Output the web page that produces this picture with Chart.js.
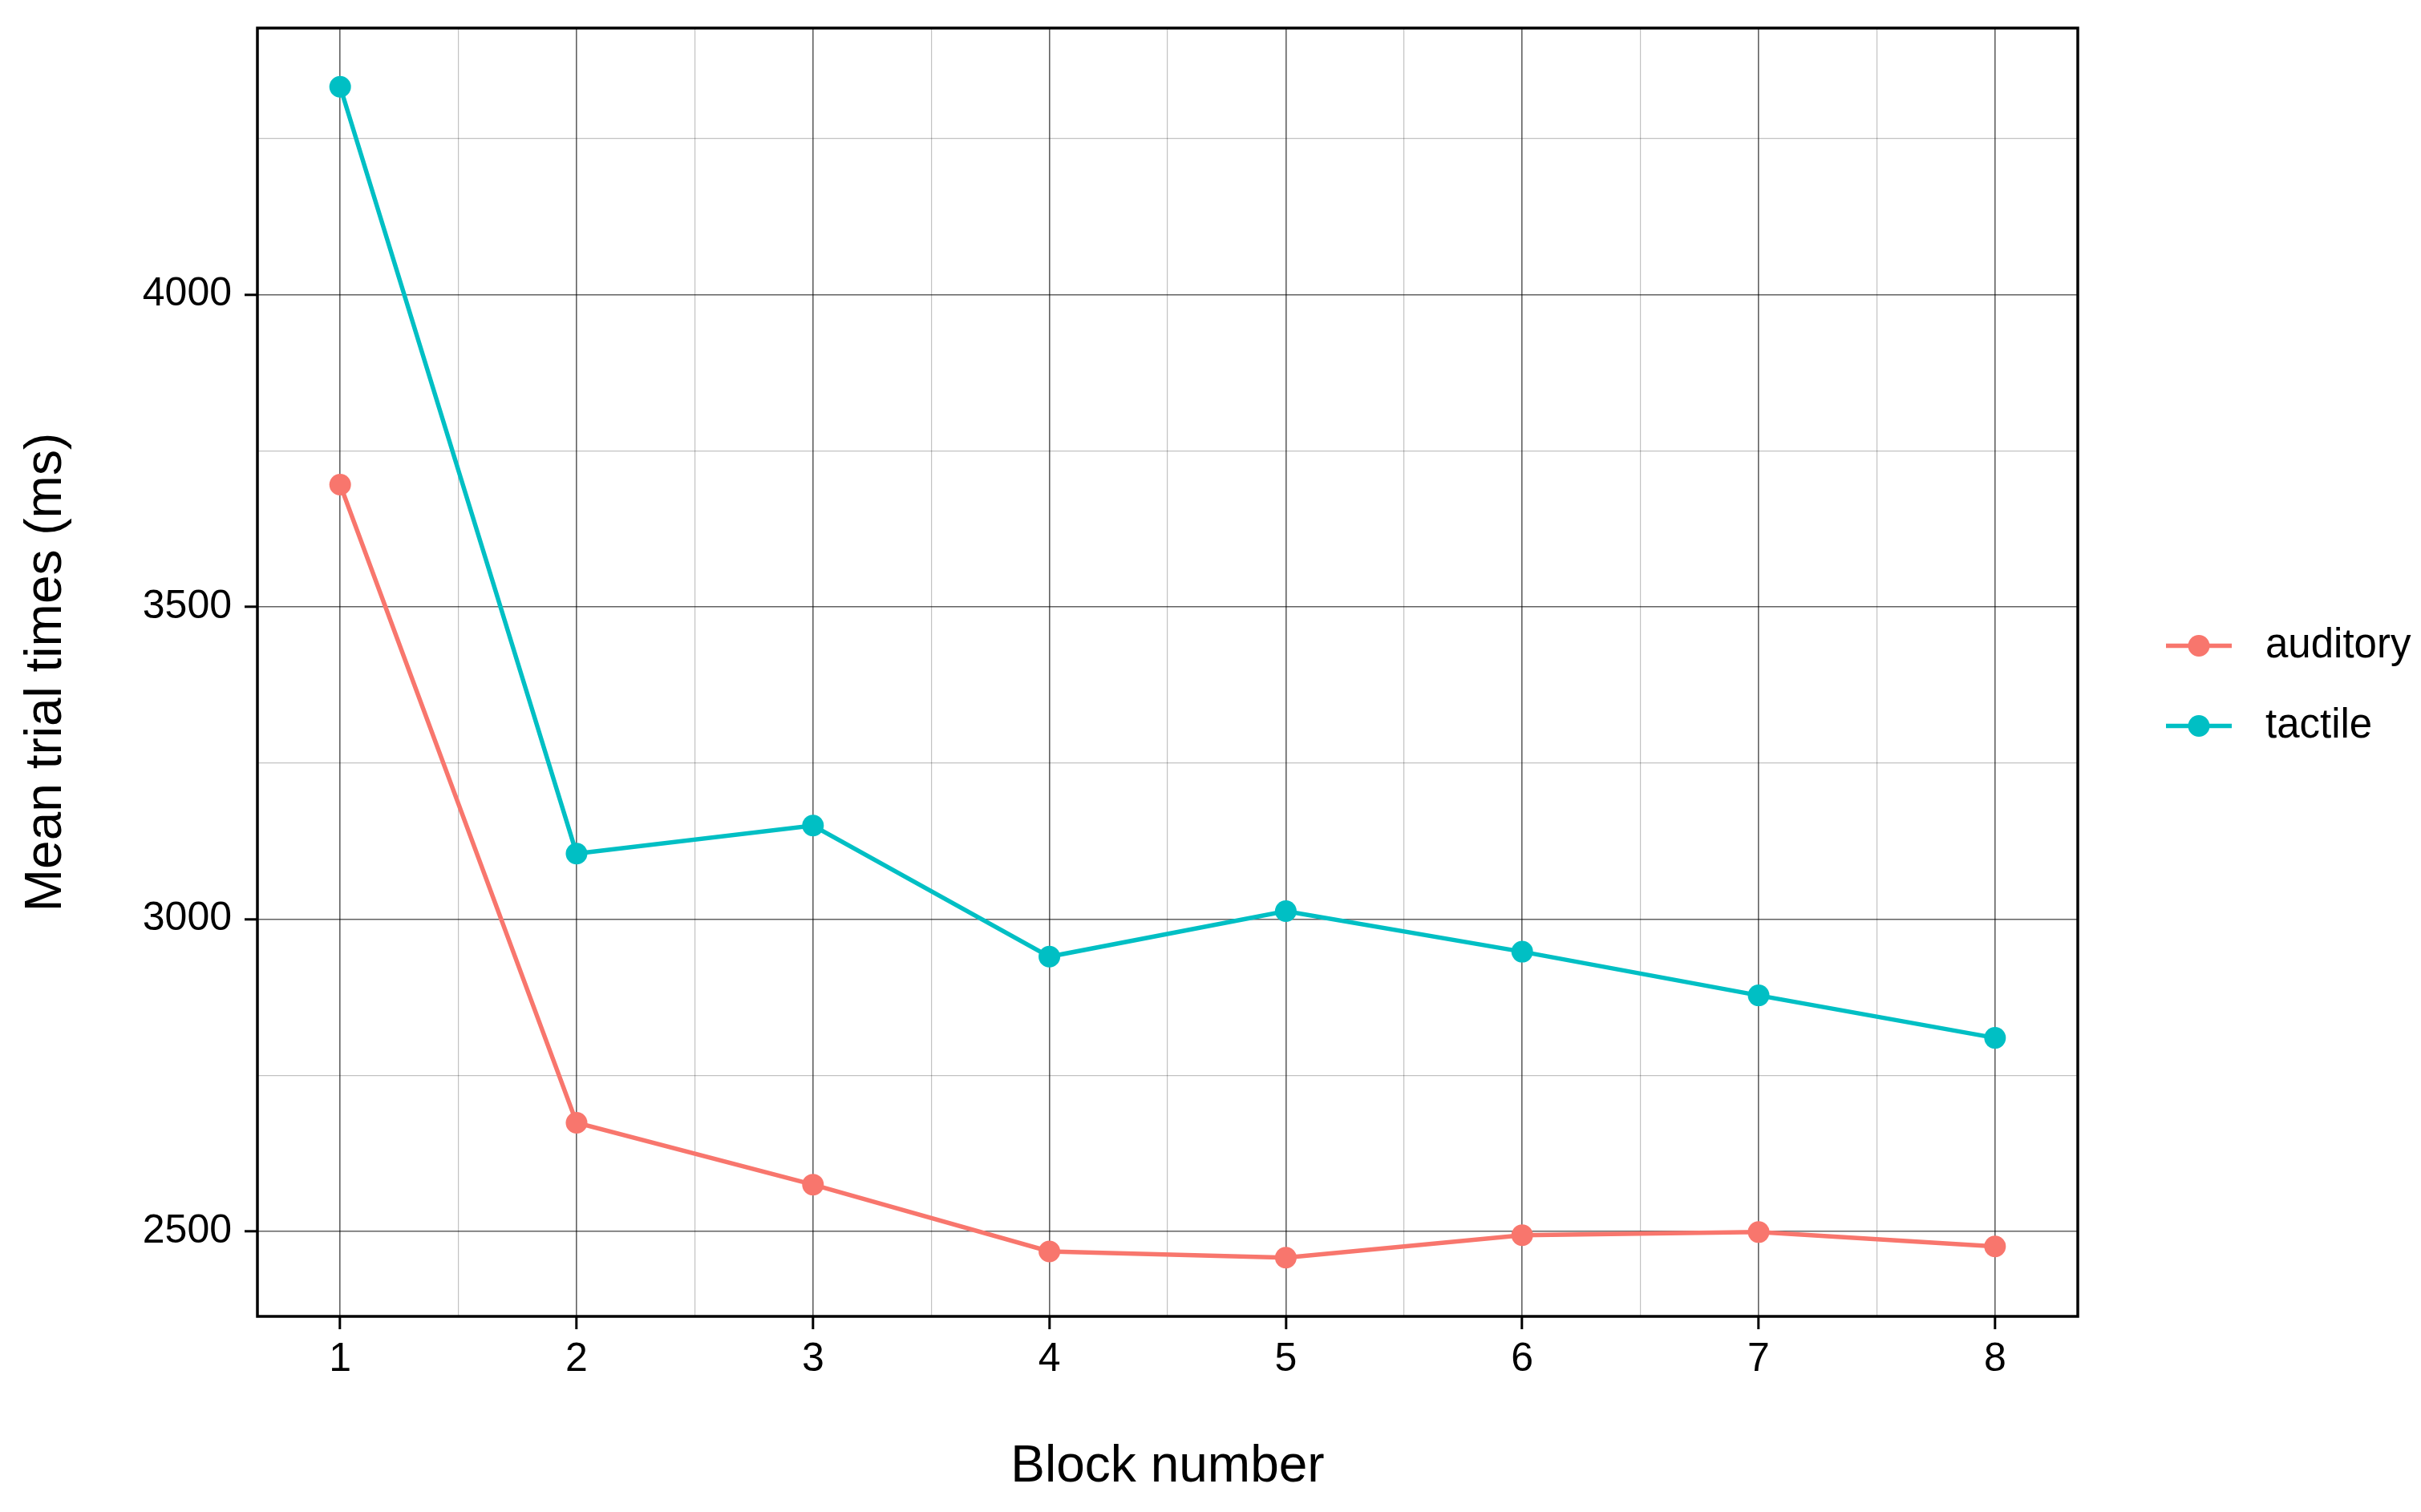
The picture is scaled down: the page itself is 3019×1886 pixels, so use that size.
<!DOCTYPE html>
<html>
<head>
<meta charset="utf-8">
<title>Mean trial times</title>
<script src="https://cdn.jsdelivr.net/npm/chart.js@4/dist/chart.umd.min.js"></script>
<style>
    html, body { margin: 0; padding: 0; background: #ffffff; }
    canvas { display: block; }
</style>
</head>
<body>
<canvas id="trialChart" width="3019" height="1886"></canvas>
<script>
// Дані
const blocks = [1, 2, 3, 4, 5, 6, 7, 8];
const auditory = [3696, 2674, 2575, 2468, 2458, 2494, 2499, 2476];
const tactile = [4333, 3105, 3150, 2940, 3013, 2948, 2878, 2810];
const seriesNames = ['auditory', 'tactile'];
const seriesColors = ['#F8766D', '#00BFC4'];

// Поділки осей (основні + проміжні)
const xTicks = [1, 1.5, 2, 2.5, 3, 3.5, 4, 4.5, 5, 5.5, 6, 6.5, 7, 7.5, 8];
const xMajor = [1, 2, 3, 4, 5, 6, 7, 8];
const yTicks = [2500, 2750, 3000, 3250, 3500, 3750, 4000, 4250];
const yMajor = [2500, 3000, 3500, 4000];

const FONT = '"Liberation Sans", Arial, Helvetica, sans-serif';

const toPoints = (vals) => blocks.map((b, i) => ({ x: b, y: vals[i] }));

// Рамка панелі
const panelBorder = {
    id: 'panelBorder',
    afterDraw(chart) {
        const { ctx, chartArea: a } = chart;
        ctx.save();
        ctx.strokeStyle = '#000000';
        ctx.lineWidth = 3.5;
        ctx.strokeRect(a.left, a.top, a.right - a.left, a.bottom - a.top);
        ctx.restore();
    }
};

// Легенда праворуч у стилі ggplot (лінія з точкою)
const sideLegend = {
    id: 'sideLegend',
    afterDraw(chart) {
        const { ctx, chartArea: a } = chart;
        const midY = (a.top + a.bottom) / 2 + 17;
        ctx.save();
        chart.data.datasets.forEach((ds, i) => {
            const y = midY + (i - 0.5) * 100;
            const x0 = a.right + 110;
            ctx.strokeStyle = ds.borderColor;
            ctx.lineWidth = 5.5;
            ctx.beginPath();
            ctx.moveTo(x0, y);
            ctx.lineTo(x0 + 82, y);
            ctx.stroke();
            ctx.fillStyle = ds.borderColor;
            ctx.beginPath();
            ctx.arc(x0 + 41, y, 13.5, 0, Math.PI * 2);
            ctx.fill();
            ctx.fillStyle = '#000000';
            ctx.font = '51px ' + FONT;
            ctx.textBaseline = 'middle';
            ctx.textAlign = 'left';
            ctx.fillText(ds.label, x0 + 124, y);
        });
        ctx.restore();
    }
};

const gridColor = (major) => (ctx) => major.includes(ctx.tick.value) ? 'rgba(0,0,0,0.62)' : 'rgba(0,0,0,0.24)';
const gridWidth = (major) => (ctx) => major.includes(ctx.tick.value) ? 1.6 : 1.2;
const tickColor = (major) => (ctx) => major.includes(ctx.tick.value) ? '#000000' : 'rgba(0,0,0,0)';

new Chart(document.getElementById('trialChart'), {
    type: 'line',
    data: {
        datasets: [
            {
                label: seriesNames[0],
                data: toPoints(auditory),
                borderColor: seriesColors[0],
                backgroundColor: seriesColors[0],
                borderWidth: 5.5,
                pointRadius: 13.5,
                pointHoverRadius: 13.5,
                pointBorderWidth: 0,
                tension: 0
            },
            {
                label: seriesNames[1],
                data: toPoints(tactile),
                borderColor: seriesColors[1],
                backgroundColor: seriesColors[1],
                borderWidth: 5.5,
                pointRadius: 13.5,
                pointHoverRadius: 13.5,
                pointBorderWidth: 0,
                tension: 0
            }
        ]
    },
    options: {
        responsive: false,
        animation: false,
        devicePixelRatio: 1,
        layout: { padding: { top: 35, right: 428, left: 0, bottom: 0 } },
        plugins: {
            legend: { display: false },
            tooltip: { enabled: false }
        },
        scales: {
            x: {
                type: 'linear',
                min: 0.65,
                max: 8.35,
                afterBuildTicks: (s) => { s.ticks = xTicks.map(v => ({ value: v })); },
                afterFit: (s) => {
                    s.height = 244;
                    s.paddingLeft = 0;
                    s.paddingRight = 0;
                },
                ticks: {
                    autoSkip: false,
                    maxRotation: 0,
                    padding: 8,
                    color: '#000000',
                    font: { family: FONT, size: 50 },
                    callback: (v) => xMajor.includes(v) ? String(v) : ''
                },
                grid: {
                    color: gridColor(xMajor),
                    lineWidth: gridWidth(xMajor),
                    tickLength: 16,
                    tickWidth: 3,
                    tickColor: tickColor(xMajor)
                },
                border: { display: false },
                title: {
                    display: true,
                    text: 'Block number',
                    color: '#000000',
                    font: { family: FONT, size: 64 },
                    padding: { top: 0, bottom: 17 }
                }
            },
            y: {
                type: 'linear',
                min: 2364,
                max: 4427,
                afterBuildTicks: (s) => { s.ticks = yTicks.map(v => ({ value: v })); },
                afterFit: (s) => {
                    s.width = 321;
                    s.paddingTop = 0;
                    s.paddingBottom = 0;
                },
                ticks: {
                    autoSkip: false,
                    padding: 16,
                    color: '#000000',
                    font: { family: FONT, size: 50 },
                    callback: (v) => yMajor.includes(v) ? String(v) : ''
                },
                grid: {
                    color: gridColor(yMajor),
                    lineWidth: gridWidth(yMajor),
                    tickLength: 16,
                    tickWidth: 3,
                    tickColor: tickColor(yMajor)
                },
                border: { display: false },
                title: {
                    display: true,
                    text: 'Mean trial times (ms)',
                    color: '#000000',
                    font: { family: FONT, size: 64 },
                    padding: { top: 20, bottom: 0 }
                }
            }
        }
    },
    plugins: [panelBorder, sideLegend]
});
</script>
</body>
</html>
